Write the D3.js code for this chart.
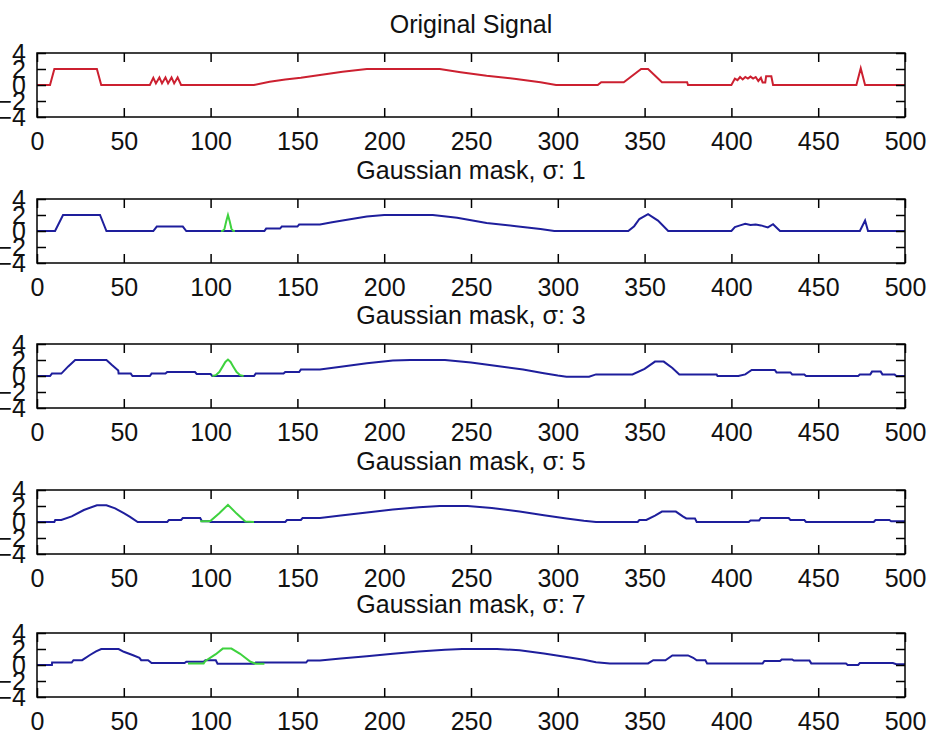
<!DOCTYPE html>
<html>
<head>
<meta charset="utf-8">
<script src="https://cdn.jsdelivr.net/npm/d3@7"></script>
<style>
  body { margin: 0; background: #fff; }
  text { font-family: "Liberation Sans", Arial, sans-serif; }
</style>
</head>
<body>
<div id="chart"></div>
<script>
// tick values / titles
var xTicks = [0, 50, 100, 150, 200, 250, 300, 350, 400, 450, 500];
var yTicks = [-4, -2, 0, 2, 4];
var titles = ["Original Signal", "Gaussian mask, \u03c3: 1", "Gaussian mask, \u03c3: 3",
              "Gaussian mask, \u03c3: 5", "Gaussian mask, \u03c3: 7"];

// signals: [sample, value]
var original = [[0,0],[7.5,0],[10,2],[34.5,2],[37,0],[65,0],[67,0.9],[68.5,0.2],[70.5,0.95],[72,0.2],
  [74,0.95],[75.5,0.2],[77.5,0.95],[79,0.2],[81,0.95],[83,0],[125,0],[134,0.4],[143,0.7],[152,0.9],
  [163,1.25],[176,1.65],[190,2],[232,2],[244,1.6],[259,1.15],[276,0.75],[290,0.35],[299,0],[323,0],
  [325,0.35],[338,0.35],[348,2],[352,2],[360,0.35],[374.5,0.35],[375,0],[400,0],[402,0.8],[403.5,0.6],
  [405,1],[406.5,0.7],[408,1],[409.5,0.8],[411,1.05],[412.5,0.8],[414,1],[415.5,0.5],[417,0.9],
  [418,0.3],[419.5,0.3],[420,1.1],[423,1.1],[424,0],[472,0],[474.5,2.1],[477,0],[500,0]];

var smooth1 = [[0,0],[10.4,0],[15,2],[36.3,2],[40,0],[67,0],[69,0.55],[84,0.55],[86,0],[131,0],
  [132,0.3],[140,0.3],[141,0.55],[150,0.55],[151,0.8],[163,0.8],[170,1.1],[176,1.3],[190,1.8],
  [200,2],[228,2],[242,1.65],[259,1],[276,0.6],[290,0.25],[298,0],[340.6,0],[344,0.6],[347,1.5],
  [352,2.1],[357.7,1.3],[363.6,0],[400,0],[402,0.5],[405,0.7],[408,0.9],[411,0.75],[414,0.8],
  [417,0.7],[421,0.45],[424,0.85],[428,0],[474,0],[477,1.3],[478.7,0],[500,0]];

var smooth3 = [[0,0],[7.5,0],[8.6,0.3],[14,0.3],[18,1.2],[22,2],[40,2],[43,1.4],[46.8,0.7],[47,0.3],
  [54,0.3],[55,0],[65,0],[66,0.3],[74,0.3],[75,0.5],[91,0.5],[92,0.25],[100,0.25],[101,0],[125,0],
  [126,0.3],[142,0.3],[143,0.5],[151,0.5],[152,0.8],[163,0.8],[175,1.15],[190,1.6],[205,1.95],
  [215,2],[235,2],[250,1.7],[265,1.25],[280,0.8],[292,0.35],[300,0.05],[305,-0.1],[318,-0.1],
  [322,0.2],[343,0.2],[350,0.9],[356,1.8],[361,1.8],[366,1],[370,0.2],[391.5,0.2],[392,0],[404,0],
  [408,0.2],[411.7,0.75],[425,0.75],[426,0.45],[434,0.45],[435,0.2],[442,0.2],[443,0],[473,0],
  [474,0.2],[480,0.2],[481,0.55],[486,0.55],[487,0.2],[494,0.2],[495,0],[500,0]];

var smooth5 = [[0,0],[10,0],[10.5,0.25],[14,0.25],[20,0.7],[27,1.5],[34.5,2.1],[40,2.1],[45,1.7],
  [50,1.1],[53.6,0.65],[58,0],[75,0],[76,0.25],[83,0.25],[84,0.5],[94,0.5],[95,0.1],[99,0.1],
  [100,0],[143,0],[144,0.25],[152,0.25],[153,0.5],[163,0.5],[175,0.8],[190,1.2],[205,1.55],
  [220,1.85],[232,2],[248,2],[262,1.75],[278,1.3],[292,0.85],[305,0.45],[315,0.15],[322,0],
  [346,0],[347,0.25],[351,0.25],[356,0.8],[360,1.3],[368,1.3],[372,0.7],[374,0.45],[379,0.45],
  [380,0],[410,0],[411,0.2],[416,0.2],[417,0.5],[433,0.5],[434,0.25],[442,0.25],[443,0],[482,0],
  [483,0.25],[491,0.25],[492,0.1],[500,0.1]];

var smooth7 = [[0,0],[8.6,0],[8.7,0.3],[20,0.3],[21,0.6],[26,0.6],[30.5,1.25],[34,1.7],[37,2],
  [47,2],[50,1.65],[55,1.25],[59,0.9],[60,0.6],[64,0.6],[66,0.25],[85,0.25],[86,0.4],[96,0.4],
  [97,0.6],[103,0.6],[104,0.15],[125,0.15],[126,0.3],[155,0.3],[156,0.55],[163,0.55],[175,0.8],
  [190,1.1],[205,1.4],[220,1.7],[235,1.9],[245,2],[265,2],[278,1.85],[292,1.45],[305,1],
  [315,0.65],[322,0.35],[330,0.2],[352,0.2],[355,0.6],[362,0.6],[366,1.2],[375,1.2],[378,0.9],
  [380,0.6],[385,0.6],[386,0.2],[418,0.2],[419,0.5],[428,0.5],[429,0.7],[435,0.7],[436,0.55],
  [445,0.55],[446,0.2],[466,0.2],[467,0],[473,0],[474,0.25],[493,0.25],[495,0.1],[500,0.1]];

// gaussian masks (green), drawn around sample 110
var mask1 = [[106,0],[107,0.02],[108,0.27],[109,1.21],[110,2],[111,1.21],[112,0.27],[113,0.02],[114,0]];
var mask3 = [[101,0],[103,0.1],[105,0.5],[107,1.2],[108.5,1.75],[110,2.05],[111.5,1.75],[113,1.2],
  [115,0.5],[117,0.1],[119,0]];
var mask5 = [[94,0.1],[99,0.1],[100,0.15],[105,1.1],[110,2.15],[115,1.05],[120,0.05],[125,0]];
var mask7 = [[87,0.2],[96,0.2],[97,0.5],[103,1.35],[107,2.05],[112,2.05],[117,1.4],[123,0.4],
  [126,0.15],[131,0.15]];

var panels = [
  { title: titles[0], line: original, color: "#cc2030", mask: null },
  { title: titles[1], line: smooth1, color: "#1e1e9c", mask: mask1 },
  { title: titles[2], line: smooth3, color: "#1e1e9c", mask: mask3 },
  { title: titles[3], line: smooth5, color: "#1e1e9c", mask: mask5 },
  { title: titles[4], line: smooth7, color: "#1e1e9c", mask: mask7 }
];

var svgWidth = 928, svgHeight = 732;
var left = 37, right = 905;
var tops = [53, 199, 344, 490, 633];
var plotH = 64;
var width = right - left;

var svg = d3.select("#chart").append("svg")
  .attr("width", svgWidth)
  .attr("height", svgHeight);

var x = d3.scaleLinear().domain([0, 500]).range([0, width]);
var y = d3.scaleLinear().domain([-4, 4]).range([plotH, 0]);

var line = d3.line()
  .x(d => x(d[0]))
  .y(d => y(d[1]));

panels.forEach(function(p, i) {
  var g = svg.append("g")
    .attr("transform", `translate(${left}, ${tops[i]})`);

  // data
  g.append("path")
    .datum(p.line)
    .attr("fill", "none")
    .attr("stroke", p.color)
    .attr("stroke-width", 2)
    .attr("d", line);

  if (p.mask) {
    g.append("path")
      .datum(p.mask)
      .attr("fill", "none")
      .attr("stroke", "#3ed23e")
      .attr("stroke-width", 2)
      .attr("d", line);
  }

  // axes, ticks pointing inward on all four sides
  var bottom = g.append("g")
    .attr("transform", `translate(0, ${plotH})`)
    .call(d3.axisBottom(x).tickValues(xTicks).tickSizeInner(-9).tickSizeOuter(0).tickPadding(15));
  var top = g.append("g")
    .call(d3.axisTop(x).tickValues(xTicks).tickSizeInner(-9).tickSizeOuter(0).tickFormat(""));
  var leftAx = g.append("g")
    .call(d3.axisLeft(y).tickValues(yTicks).tickSizeInner(-9).tickSizeOuter(0).tickPadding(11));
  var rightAx = g.append("g")
    .attr("transform", `translate(${width}, 0)`)
    .call(d3.axisRight(y).tickValues(yTicks).tickSizeInner(-9).tickSizeOuter(0).tickFormat(""));

  [bottom, top, leftAx, rightAx].forEach(function(a) {
    a.select(".domain").remove();
    a.selectAll("line").attr("stroke", "#000").attr("stroke-width", 1.5);
    a.selectAll("text").attr("fill", "#111").style("font-size", "25px")
      .style("font-family", "'Liberation Sans', Arial, sans-serif");
  });

  // box
  g.append("rect")
    .attr("width", width)
    .attr("height", plotH)
    .attr("fill", "none")
    .attr("stroke", "#000")
    .attr("stroke-width", 1.5);

  // title
  g.append("text")
    .attr("x", width / 2)
    .attr("y", -20)
    .attr("text-anchor", "middle")
    .attr("fill", "#111")
    .style("font-size", "25px")
    .text(p.title);
});
</script>
</body>
</html>
